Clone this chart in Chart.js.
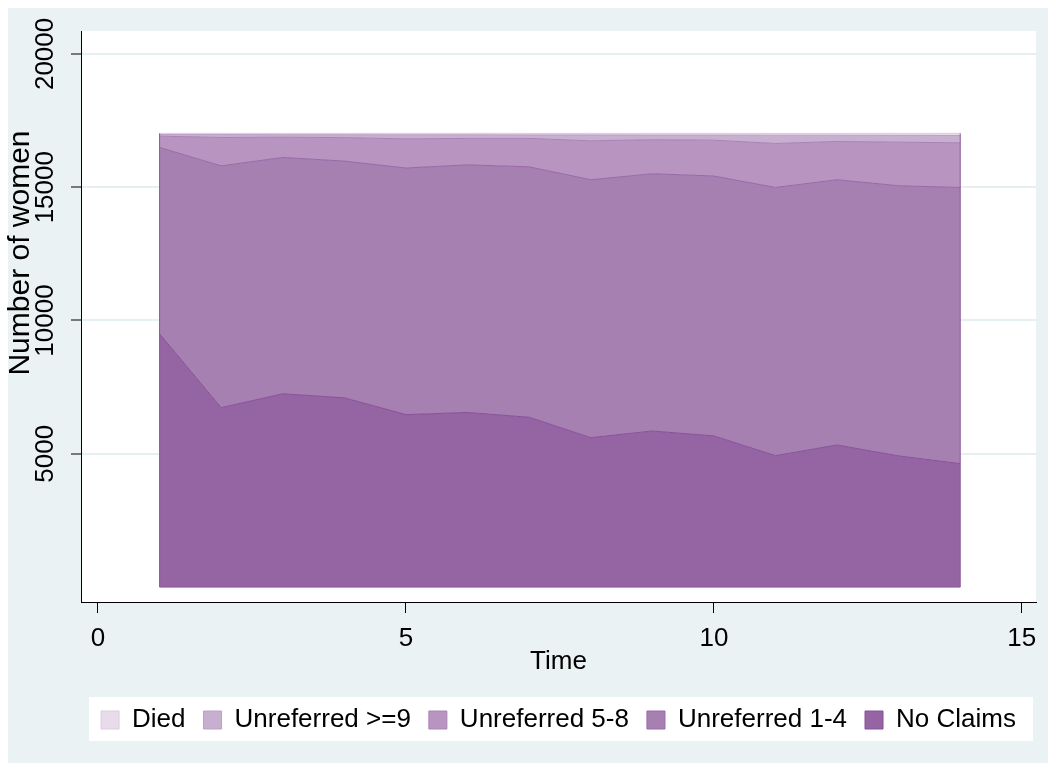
<!DOCTYPE html>
<html><head><meta charset="utf-8">
<script src="https://cdn.jsdelivr.net/npm/chart.js@4.4.1/dist/chart.umd.min.js"></script>
<style>html,body{margin:0;padding:0;background:#fff;}</style>
</head><body>
<canvas id="c" width="1056" height="771"></canvas>
<script>
const times     = [1, 2, 3, 4, 5, 6, 7, 8, 9, 10, 11, 12, 13, 14];
const noClaims  = [9500, 6730, 7250, 7100, 6470, 6550, 6370, 5605, 5855, 5670, 4930, 5330, 4920, 4630];
const unref14   = [6990, 9070, 8865, 8880, 9250, 9290, 9395, 9675, 9650, 9750, 10060, 9950, 10135, 10360];
const unref58   = [425, 1065, 760, 880, 1095, 990, 1065, 1460, 1275, 1345, 1650, 1435, 1635, 1675];
const unref9    = [60, 110, 95, 110, 150, 135, 130, 220, 175, 190, 310, 235, 255, 275];
const died      = [45, 45, 50, 50, 55, 55, 60, 60, 65, 65, 70, 70, 75, 80];
const seriesNames = ['No Claims', 'Unreferred 1-4', 'Unreferred 5-8', 'Unreferred >=9', 'Died'];
const xTicks = [0, 5, 10, 15];
const yTicks = [5000, 10000, 15000, 20000];
const xTitle = 'Time';
const yTitle = 'Number of women';

const FONT = "'Liberation Sans', Arial, Helvetica, sans-serif";
const fills   = ['#9564a3', '#a780b2', '#b895c0', '#c7afd0', '#e9dcea'];
const borders = ['#87509a', '#9868a9', '#a982b5', '#bd9fc7', '#dccbe0'];
const seriesData = [noClaims, unref14, unref58, unref9, died];

const datasets = seriesData.map((arr, i) => ({
  label: seriesNames[i],
  data: arr.map((v, j) => ({x: times[j], y: v})),
  backgroundColor: fills[i],
  borderColor: borders[i],
  borderWidth: 1,
  pointRadius: 0,
  tension: 0,
  fill: i === 0 ? 'origin' : '-1'
}));

const bgPlugin = {
  id: 'bg',
  beforeDraw(chart) {
    const ctx = chart.ctx, a = chart.chartArea;
    ctx.save();
    ctx.fillStyle = '#ffffff';
    ctx.fillRect(0, 0, chart.width, chart.height);
    ctx.fillStyle = '#eaf2f3';
    ctx.fillRect(8, 8, 1040, 755);
    ctx.fillStyle = '#ffffff';
    ctx.fillRect(a.left, a.top, a.right - a.left, a.bottom - a.top);
    ctx.fillRect(a.left + 8, 697, a.right - a.left - 11, 44);
    ctx.restore();
  },
  afterDatasetsDraw(chart) {
    const ctx = chart.ctx, xs = chart.scales.x, ys = chart.scales.y;
    const n = times.length - 1;
    const tot = j => seriesData.reduce((s, arr) => s + arr[j], 0);
    ctx.save();
    ctx.strokeStyle = '#8a559b';
    ctx.lineWidth = 1;
    ctx.beginPath();
    ctx.moveTo(xs.getPixelForValue(times[0]), ys.getPixelForValue(tot(0)));
    ctx.lineTo(xs.getPixelForValue(times[0]), ys.getPixelForValue(0));
    ctx.lineTo(xs.getPixelForValue(times[n]), ys.getPixelForValue(0));
    ctx.lineTo(xs.getPixelForValue(times[n]), ys.getPixelForValue(tot(n)));
    ctx.stroke();
    ctx.restore();
  },
  afterDraw(chart) {
    const ctx = chart.ctx, ys = chart.scales.y;
    ctx.save();
    ctx.fillStyle = '#000';
    ctx.textAlign = 'center';
    ctx.textBaseline = 'middle';
    ctx.font = '26px ' + FONT;
    yTicks.forEach(v => {
      const y = ys.getPixelForValue(v);
      ctx.save();
      ctx.translate(46, y);
      ctx.rotate(-Math.PI / 2);
      ctx.fillText(String(v), 0, 0);
      ctx.restore();
    });
    ctx.font = '30px ' + FONT;
    ctx.save();
    ctx.translate(21, 253);
    ctx.rotate(-Math.PI / 2);
    ctx.fillText(yTitle, 0, 0);
    ctx.restore();
    ctx.restore();
  }
};

new Chart(document.getElementById('c'), {
  type: 'line',
  data: { datasets },
  plugins: [bgPlugin],
  options: {
    responsive: false,
    animation: false,
    events: [],
    layout: { padding: { left: 81, right: 20, top: 31, bottom: 28 } },
    plugins: {
      tooltip: { enabled: false },
      legend: {
        position: 'bottom',
        reverse: true,
        labels: {
          color: '#000',
          font: { family: FONT, size: 26 },
          boxWidth: 18,
          boxHeight: 18,
          padding: 18
        }
      }
    },
    scales: {
      x: {
        type: 'linear',
        min: -0.276,
        max: 15.23,
        afterBuildTicks(s) { s.ticks = xTicks.map(v => ({value: v})); },
        afterFit(s) { s.height = 87; },
        grid: { drawOnChartArea: false, drawTicks: true, tickLength: 11, tickColor: '#000', tickWidth: 1 },
        border: { display: true, color: '#000', width: 1 },
        ticks: { color: '#000', font: { family: FONT, size: 26 }, padding: 10, maxRotation: 0 },
        title: { display: true, text: xTitle, color: '#000', font: { family: FONT, size: 26 }, padding: { top: 0, bottom: 12 } }
      },
      y: {
        type: 'linear',
        stacked: true,
        min: -560,
        max: 20860,
        afterBuildTicks(s) { s.ticks = yTicks.map(v => ({value: v})); },
        afterFit(s) { s.width = 0; },
        grid: { drawOnChartArea: true, color: '#e6eff1', lineWidth: 2, drawTicks: true, tickLength: 10, tickColor: '#000', tickWidth: 1 },
        border: { display: true, color: '#000', width: 1 },
        ticks: { display: false }
      }
    }
  }
});
</script>
</body></html>
